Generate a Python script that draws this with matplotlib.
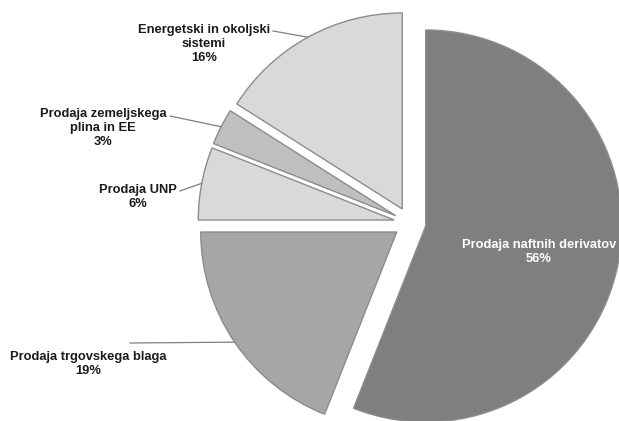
import matplotlib
matplotlib.use("Agg")
import matplotlib.pyplot as plt
import numpy as np

# data
categories = ["Prodaja naftnih derivatov", "Prodaja trgovskega blaga", "Prodaja UNP",
              "Prodaja zemeljskega\nplina in EE", "Energetski in okoljski\nsistemi"]
values = [56, 19, 6, 3, 16]
colors = ["#7f7f7f", "#a6a6a6", "#d9d9d9", "#bfbfbf", "#d9d9d9"]

W, H = 619, 421

def px(x, y):
    # pixel position (top-left origin) -> data coords
    return x, H - y

fig = plt.figure(figsize=(W / 100, H / 100), dpi=100)
ax = fig.add_axes([0, 0, 1, 1])

wedges, _ = ax.pie(values, explode=[16] * len(values), startangle=90, counterclock=False,
                   colors=colors, radius=196, center=px(410, 223),
                   wedgeprops=dict(edgecolor="#8c8c8c", linewidth=1.0))
ax.set_xlim(0, W)
ax.set_ylim(0, H)
ax.set_aspect("equal")
ax.axis("off")

plt.rcParams["font.family"] = ["Liberation Sans", "DejaVu Sans"]
fs = 9.3

# outside labels: (text centre x, first line y, leader start) in pixels
outside = {
    1: (88, 355, (130, 343)),
    2: (138, 188, (180, 191)),
    3: (103, 112, (170, 116)),
    4: (204, 28, (273, 31)),
}
for i, (tx, ty, (lx, ly)) in outside.items():
    w = wedges[i]
    tm = np.deg2rad((w.theta1 + w.theta2) / 2)
    ex = w.center[0] + w.r * np.cos(tm)
    ey = w.center[1] + w.r * np.sin(tm)
    sx, sy = px(lx, ly)
    ax.plot([sx, ex], [sy, ey], color="#7f7f7f", linewidth=0.9, zorder=3)
    x, y = px(tx, ty - 4)
    ax.text(x, y, f"{categories[i]}\n{values[i]}%", ha="center", va="top",
            fontsize=fs, fontweight="bold", color="#1a1a1a", linespacing=1.2)

x, y = px(539, 239)
ax.text(x, y, f"{categories[0]}\n{values[0]}%", ha="center", va="top",
        fontsize=fs, fontweight="bold", color="white", linespacing=1.2)

fig.savefig("out.png", dpi=100)
